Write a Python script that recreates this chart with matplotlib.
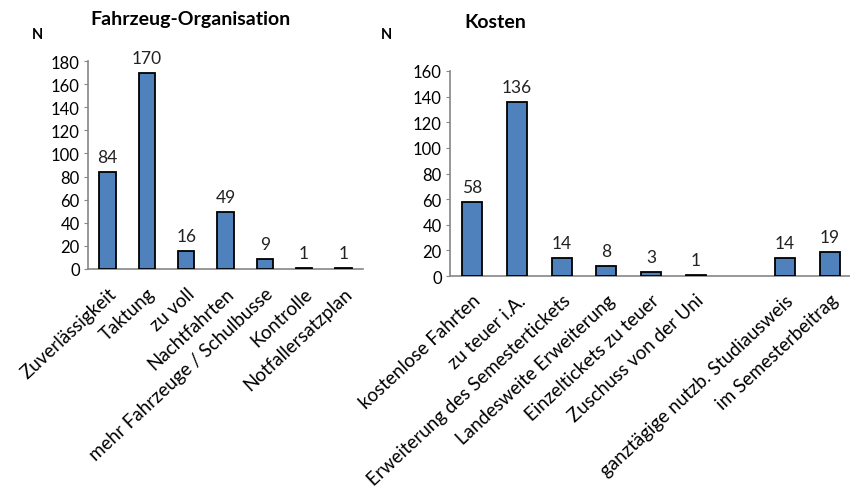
import matplotlib
matplotlib.use("Agg")
import matplotlib.pyplot as plt

plt.rcParams['font.family'] = ['Lato', 'DejaVu Sans']

left_title = "Fahrzeug-Organisation"
left_categories = ["Zuverlässigkeit", "Taktung", "zu voll", "Nachtfahrten",
                   "mehr Fahrzeuge / Schulbusse", "Kontrolle", "Notfallersatzplan"]
left_values = [84, 170, 16, 49, 9, 1, 1]
left_yticks = [0, 20, 40, 60, 80, 100, 120, 140, 160, 180]

right_title = "Kosten"
right_categories = ["kostenlose Fahrten", "zu teuer i.A.", "Erweiterung des Semestertickets",
                    "Landesweite Erweiterung", "Einzeltickets zu teuer", "Zuschuss von der Uni",
                    "", "ganztägige nutzb. Studiausweis", "im Semesterbeitrag"]
right_values = [58, 136, 14, 8, 3, 1, None, 14, 19]
right_yticks = [0, 20, 40, 60, 80, 100, 120, 140, 160]

BAR = "#4F81BD"
AX = "#868686"

fig = plt.figure(figsize=(8.5, 4.89), dpi=100)

def draw(ax, cats, vals, yticks, width):
    xs = [i for i, v in enumerate(vals) if v is not None]
    vs = [v for v in vals if v is not None]
    ax.bar(xs, vs, width=width, color=BAR, edgecolor="black", linewidth=1.3, zorder=3)
    for x, v in zip(xs, vs):
        ax.annotate(str(v), (x, v), xytext=(0, 5), textcoords="offset points",
                    ha="center", va="bottom", fontsize=12.5, color="#222222")
    ax.set_xlim(-0.5, len(vals) - 0.5)
    ax.set_ylim(0, yticks[-1])
    ax.set_yticks(yticks)
    ax.set_xticks(range(len(cats)))
    ax.set_xticklabels(cats, rotation=43, ha="right", rotation_mode="anchor", fontsize=13.5)
    ax.tick_params(axis="x", length=0, pad=11)
    ax.tick_params(axis="y", length=3, color=AX, labelsize=12, pad=3)
    for s in ["top", "right"]:
        ax.spines[s].set_visible(False)
    for s in ["left", "bottom"]:
        ax.spines[s].set_color(AX)
        ax.spines[s].set_linewidth(1.2)

ax1 = fig.add_axes([88/850, 1 - 270/489, (363 - 88)/850, (270 - 62)/489])
draw(ax1, left_categories, left_values, left_yticks, 0.42)

ax2 = fig.add_axes([450/850, 1 - 277/489, (852 - 450)/850, (277 - 72)/489])
draw(ax2, right_categories, right_values, right_yticks, 0.45)

fig.text(191/850, 1 - 20/489, left_title, ha="center", va="center", fontsize=14, fontweight="bold")
fig.text(495/850, 1 - 22/489, right_title, ha="center", va="center", fontsize=14, fontweight="bold")
fig.text(37/850, 1 - 35/489, "N", ha="center", va="center", fontsize=10.5, fontweight="bold")
fig.text(386/850, 1 - 35/489, "N", ha="center", va="center", fontsize=10.5, fontweight="bold")

fig.savefig("out.png", dpi=100)
